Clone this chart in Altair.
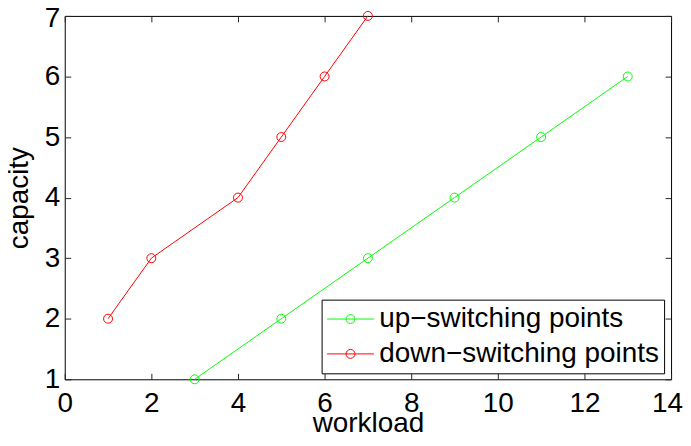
import altair as alt
import pandas as pd

# data
up_workload = [3, 5, 7, 9, 11, 13]
up_capacity = [1, 2, 3, 4, 5, 6]
down_workload = [1, 2, 4, 5, 6, 7]
down_capacity = [2, 3, 4, 5, 6, 7]
series_names = ["up\u2212switching points", "down\u2212switching points"]
series_colors = ["#00ff00", "#ff0000"]
x_ticks = [0, 2, 4, 6, 8, 10, 12, 14]
y_ticks = [1, 2, 3, 4, 5, 6, 7]

rows = []
for i, (xs, ys) in enumerate([(up_workload, up_capacity), (down_workload, down_capacity)]):
    for k, (a, b) in enumerate(zip(xs, ys)):
        rows.append({"workload": a, "capacity": b, "series": series_names[i], "order": k})
df = pd.DataFrame(rows)

FONT = "Liberation Sans"
FS = 28

xscale = alt.Scale(domain=[0, 14], nice=False, zero=False)
yscale = alt.Scale(domain=[1, 7], nice=False, zero=False)
cscale = alt.Scale(domain=series_names, range=series_colors)

# line sample with a circle, drawn in the legend symbol's unit space (r = 14 px)
legend_path = ("M-1,0L2.36,0M1.0,0A0.32,0.32,0,1,1,0.36,0"
               "A0.32,0.32,0,1,1,1.0,0")
leg = alt.Legend(
    title=None,
    orient="none",
    legendX=258,
    legendY=285,
    symbolType=legend_path,
    symbolSize=784,
    symbolStrokeWidth=1,
    symbolFillColor="transparent",
    labelFont=FONT,
    labelFontSize=FS,
    labelColor="black",
    labelOffset=24,
    labelLimit=600,
    strokeColor="black",
    fillColor="white",
    padding=5,
    rowPadding=6,
)

x_axis = alt.Axis(
    values=x_ticks, title="workload", offset=-6, tickSize=6, domain=False, grid=False,
    labelBaseline="alphabetic", labelPadding=32, titleBaseline="alphabetic", titleY=58,
    labelFlush=False, labelOverlap=False,
    labelOffset={"condition": {"test": "datum.value == 14", "value": -4}, "value": 0},
)
y_axis = alt.Axis(
    values=y_ticks, title="capacity", offset=-6, tickSize=6, domain=False, grid=False,
    labelBaseline="middle", labelPadding=5, titleBaseline="alphabetic", titleX=-43,
    labelFlush=False, labelOverlap=False,
    labelOffset={"condition": {"test": "datum.value == 7", "value": 3}, "value": 0},
)

base = alt.Chart(df)

lines = base.mark_line(strokeWidth=1, clip=False).encode(
    x=alt.X("workload:Q", scale=xscale, axis=x_axis),
    y=alt.Y("capacity:Q", scale=yscale, axis=y_axis),
    color=alt.Color("series:N", scale=cscale, legend=leg, sort=series_names),
    order="order:Q",
    detail="series:N",
)

points = base.mark_point(filled=False, size=81, strokeWidth=1, shape="circle", opacity=1).encode(
    x=alt.X("workload:Q", scale=xscale, axis=None),
    y=alt.Y("capacity:Q", scale=yscale, axis=None),
    color=alt.Color("series:N", scale=cscale, legend=leg, sort=series_names),
)

mirror = base.mark_point(opacity=0).encode(
    x=alt.X("workload:Q", scale=xscale,
            axis=alt.Axis(orient="top", values=x_ticks, labels=False, title=None, offset=-6,
                          tickSize=6, domain=False, grid=False)),
    y=alt.Y("capacity:Q", scale=yscale,
            axis=alt.Axis(orient="right", values=y_ticks, labels=False, title=None, offset=-6,
                          tickSize=6, domain=False, grid=False)),
)

chart = (
    alt.layer(lines, points, mirror)
    .resolve_axis(x="independent", y="independent")
    .resolve_scale(x="shared", y="shared")
    .properties(
        width=609,
        height=365,
        autosize=alt.AutoSizeParams(type="none"),
        padding={"left": 57, "top": 7, "right": 12, "bottom": 53},
        background="white",
    )
    .configure_view(stroke="black", strokeWidth=1)
    .configure_axis(
        labelFont=FONT, labelFontSize=FS, labelColor="black",
        titleFont=FONT, titleFontSize=FS, titleColor="black", titleFontWeight="normal",
        tickColor="#262626", tickWidth=1,
    )
)

chart.save("out.html", embed_options={"renderer": "svg", "actions": False})
